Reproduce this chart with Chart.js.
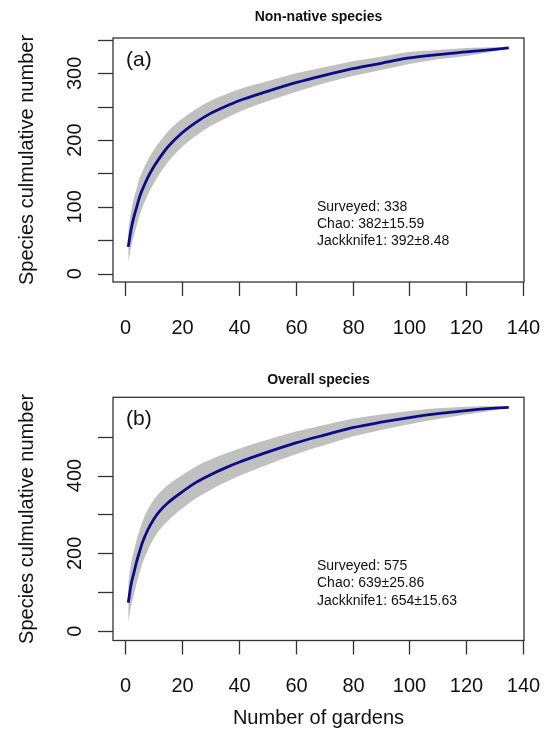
<!DOCTYPE html>
<html>
<head>
<meta charset="utf-8">
<script src="https://cdn.jsdelivr.net/npm/chart.js@4.4.1/dist/chart.umd.min.js"></script>
<style>
  body { margin: 0; background: #fff; }
  #wrap { position: relative; width: 552px; height: 731px; }
  canvas { position: absolute; left: 0; }
  #panelA { top: 0; }
  #panelB { top: 360px; }
</style>
</head>
<body>
<div id="wrap">
  <canvas id="panelA" width="552" height="360"></canvas>
  <canvas id="panelB" width="552" height="371"></canvas>
</div>
<script>
const gardens = [1, 2, 3, 4, 5, 6, 8, 10, 12, 15, 20, 25, 30, 35, 40, 50, 60, 70, 80, 90, 100, 110, 120, 130, 135];

// (a) non-native species: mean accumulated richness and half-width of grey bars
const nonNativeMean = [40, 66, 85, 100, 115, 126, 145, 160, 173, 190, 211, 227, 240, 250, 259, 273, 286, 297, 307, 315, 323, 328, 332, 336, 338];
const nonNativeSd   = [24, 27, 28, 28, 28, 27, 26, 25, 24, 23, 21, 20, 19, 18, 17, 15, 14, 12, 11, 10, 9, 7, 6, 3, 0];

// (b) overall species
const overallMean = [73, 120, 150, 180, 205, 228, 262, 288, 308, 330, 358, 383, 402, 419, 434, 460, 484, 504, 523, 537, 549, 559, 567, 573, 575];
const overallSd   = [50, 55, 56, 56, 55, 54, 52, 50, 48, 46, 43, 41, 39, 37, 35, 32, 29, 26, 23, 20, 17, 14, 10, 5, 0];

// axis ticks
const xTicks = [0, 20, 40, 60, 80, 100, 120, 140];
const yTicksA = [0, 50, 100, 150, 200, 250, 300, 350];
const yLabelsA = [0, 100, 200, 300];
const yTicksB = [0, 100, 200, 300, 400, 500];
const yLabelsB = [0, 200, 400];

const annotA = ['Surveyed: 338', 'Chao: 382\u00b115.59', 'Jackknife1: 392\u00b18.48'];
const annotB = ['Surveyed: 575', 'Chao: 639\u00b125.86', 'Jackknife1: 654\u00b115.63'];

const FONT = '"Liberation Sans", Arial, sans-serif';
const INK = '#111';

// R-style axes, box and text drawn with the chart's own scales
const rAxes = {
  id: 'rAxes',
  afterDraw(chart, args, o) {
    const c = chart.ctx;
    const a = chart.chartArea;
    const xs = chart.scales.x, ys = chart.scales.y;
    c.save();
    c.strokeStyle = '#333';
    c.lineWidth = 1.3;
    c.strokeRect(a.left, a.top, a.right - a.left, a.bottom - a.top);

    // x ticks
    c.fillStyle = INK;
    c.font = '20px ' + FONT;
    c.textAlign = 'center';
    c.textBaseline = 'middle';
    xTicks.forEach(v => {
      const px = Math.round(xs.getPixelForValue(v)) + 0.5;
      c.beginPath();
      c.moveTo(px, a.bottom);
      c.lineTo(px, a.bottom + 14);
      c.stroke();
      c.fillText(String(v), px, a.bottom + 46);
    });

    // y ticks with rotated labels
    o.yTicks.forEach(v => {
      const py = Math.round(ys.getPixelForValue(v)) + 0.5;
      c.beginPath();
      c.moveTo(a.left, py);
      c.lineTo(a.left - 15, py);
      c.stroke();
    });
    o.yLabels.forEach(v => {
      const py = ys.getPixelForValue(v);
      c.save();
      c.translate(75, py);
      c.rotate(-Math.PI / 2);
      c.fillText(String(v), 0, 0);
      c.restore();
    });

    // y title
    c.save();
    c.translate(27, (a.top + a.bottom) / 2);
    c.rotate(-Math.PI / 2);
    c.fillText('Species culmulative number', 0, 0);
    c.restore();

    // x title
    if (o.xTitle) {
      c.fillText(o.xTitle, (a.left + a.right) / 2, a.bottom + 78);
    }

    // main title
    c.font = 'bold 14px ' + FONT;
    c.fillText(o.title, (a.left + a.right) / 2, a.top - o.titleGap);

    // panel letter
    c.font = '21px ' + FONT;
    c.textAlign = 'left';
    c.fillText(o.letter, a.left + 13, a.top + 22);

    // estimator text
    c.font = '14px ' + FONT;
    o.annot.forEach((t, i) => {
      c.fillText(t, 317, a.top + 169 + i * 17.3);
    });
    c.restore();
  }
};

function makePanel(id, mean, sd, yMin, yMax, opts, pad) {
  const upper = mean.map((m, i) => ({ x: gardens[i], y: m + sd[i] }));
  const lower = mean.map((m, i) => ({ x: gardens[i], y: m - sd[i] }));
  const line = mean.map((m, i) => ({ x: gardens[i], y: m }));
  return new Chart(document.getElementById(id), {
    type: 'line',
    data: {
      datasets: [
        {
          data: line,
          borderColor: '#0b0b8a',
          borderWidth: 2.8,
          pointRadius: 0,
          cubicInterpolationMode: 'monotone',
          fill: false
        },
        {
          data: upper,
          borderWidth: 0,
          borderColor: 'rgba(0,0,0,0)',
          pointRadius: 0,
          cubicInterpolationMode: 'monotone',
          fill: false
        },
        {
          data: lower,
          borderWidth: 0,
          borderColor: 'rgba(0,0,0,0)',
          backgroundColor: '#c0c0c0',
          pointRadius: 0,
          cubicInterpolationMode: 'monotone',
          fill: 1
        }
      ]
    },
    options: {
      responsive: false,
      devicePixelRatio: 1,
      animation: false,
      layout: { padding: pad },
      plugins: {
        legend: { display: false },
        tooltip: { enabled: false },
        rAxes: opts
      },
      scales: {
        x: { type: 'linear', min: -4.36, max: 140.36, display: false },
        y: { type: 'linear', min: yMin, max: yMax, display: false }
      }
    },
    plugins: [rAxes]
  });
}

makePanel('panelA', nonNativeMean, nonNativeSd, -12.6, 352.9,
  { yTicks: yTicksA, yLabels: yLabelsA, title: 'Non-native species', letter: '(a)', annot: annotA, titleGap: 20.5 },
  { left: 113, right: 28, top: 38, bottom: 78 });

makePanel('panelB', overallMean, overallSd, -23.8, 601,
  { yTicks: yTicksB, yLabels: yLabelsB, title: 'Overall species', letter: '(b)', annot: annotB, xTitle: 'Number of gardens', titleGap: 17.5 },
  { left: 113, right: 28, top: 37.3, bottom: 90.5 });
</script>
</body>
</html>
